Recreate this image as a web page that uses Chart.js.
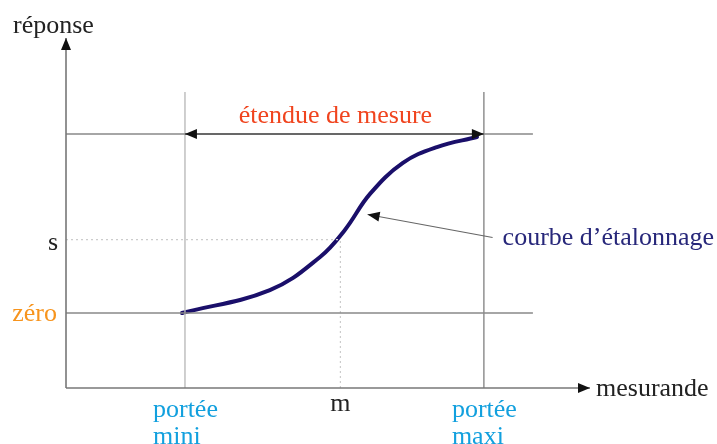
<!DOCTYPE html>
<html>
<head>
<meta charset="utf-8">
<script src="https://cdn.jsdelivr.net/npm/chart.js@4/dist/chart.umd.min.js"></script>
<style>
  html, body { margin: 0; padding: 0; background: #fff; }
  #wrap { width: 717px; height: 444px; }
</style>
</head>
<body>
<div id="wrap"><canvas id="chart"></canvas></div>
<script>
// mesurande in % of the range (portée mini = 0, portée maxi = 100)
// réponse in % of the span (zéro = 0, top of étendue = 100)
const xMin = -39.8, xMax = 135.5;
const yMin = -41.9, yMax = 153.6;
const porteeMini = 0, porteeMaxi = 100;
const mValue = 52, sValue = 41;
const zeroValue = 0, fullValue = 100;
const refLineEnd = 116.4;   // end of the horizontal reference lines
const vertLineTop = 123.5;  // top of the portée verticals

// calibration curve
const curveX = [-1, 28.4, 45.2, 53.5, 61.9, 72.9, 84.3, 97.7];
const curveY = [0, 12.8, 31.3, 46.4, 66.5, 83.8, 92.7, 98.3];

const serif = '"Liberation Serif", "DejaVu Serif", serif';

function seg(x1, y1, x2, y2, color, width, dash) {
  return {
    type: 'line',
    data: [{ x: x1, y: y1 }, { x: x2, y: y2 }],
    borderColor: color,
    borderWidth: width,
    borderDash: dash || [],
    pointRadius: 0,
    clip: false,
    tension: 0
  };
}

function arrowHead(ctx, x, y, angle, len, half, color) {
  ctx.save();
  ctx.translate(x, y);
  ctx.rotate(angle);
  ctx.fillStyle = color;
  ctx.beginPath();
  ctx.moveTo(0, 0);
  ctx.lineTo(-len, -half);
  ctx.lineTo(-len, half);
  ctx.closePath();
  ctx.fill();
  ctx.restore();
}

const annotations = {
  id: 'annotations',
  afterDatasetsDraw(chart) {
    const { ctx } = chart;
    const sx = chart.scales.x, sy = chart.scales.y;
    const px = v => sx.getPixelForValue(v);
    const py = v => sy.getPixelForValue(v);

    // axis arrows
    arrowHead(ctx, px(xMin), py(yMax), -Math.PI / 2, 12, 5, '#111');
    arrowHead(ctx, px(xMax), py(yMin), 0, 12, 5, '#111');

    // étendue de mesure double arrow
    const ya = py(fullValue);
    ctx.save();
    ctx.strokeStyle = '#555';
    ctx.lineWidth = 1.6;
    ctx.beginPath();
    ctx.moveTo(px(porteeMini), ya);
    ctx.lineTo(px(porteeMaxi), ya);
    ctx.stroke();
    ctx.restore();
    arrowHead(ctx, px(porteeMini), ya, Math.PI, 12, 5, '#111');
    arrowHead(ctx, px(porteeMaxi), ya, 0, 12, 5, '#111');

    // pointer to the curve
    const tipX = px(61.1), tipY = py(55);
    const tailX = tipX + 125, tailY = tipY + 23;
    const ang = Math.atan2(tipY - tailY, tipX - tailX);
    ctx.save();
    ctx.strokeStyle = '#666';
    ctx.lineWidth = 1.2;
    ctx.beginPath();
    ctx.moveTo(tailX, tailY);
    ctx.lineTo(tipX, tipY);
    ctx.stroke();
    ctx.restore();
    arrowHead(ctx, tipX, tipY, ang, 12, 5, '#111');

    // texts
    ctx.save();
    ctx.font = '26px ' + serif;
    ctx.textBaseline = 'alphabetic';

    ctx.fillStyle = '#222';
    ctx.textAlign = 'left';
    ctx.fillText('réponse', px(xMin) - 53, py(yMax) - 5);
    ctx.fillText('mesurande', px(xMax) + 6, py(yMin) + 8);
    ctx.textAlign = 'right';
    ctx.fillText('s', px(xMin) - 8, py(sValue) + 10);
    ctx.textAlign = 'center';
    ctx.fillText('m', px(mValue), py(yMin) + 23);

    ctx.fillStyle = '#f7941d';
    ctx.textAlign = 'right';
    ctx.fillText('zéro', px(xMin) - 9, py(zeroValue) + 8);

    ctx.fillStyle = '#f0441e';
    ctx.textAlign = 'center';
    ctx.fillText('étendue de mesure', (px(porteeMini) + px(porteeMaxi)) / 2 + 1, ya - 11);

    ctx.fillStyle = '#27277a';
    ctx.textAlign = 'left';
    ctx.fillText('courbe d’étalonnage', tailX + 10, tailY + 7);

    ctx.fillStyle = '#12a0de';
    ctx.textAlign = 'left';
    ctx.fillText('portée', px(porteeMini) - 32, py(yMin) + 29);
    ctx.fillText('mini', px(porteeMini) - 32, py(yMin) + 56);
    ctx.fillText('portée', px(porteeMaxi) - 32, py(yMin) + 29);
    ctx.fillText('maxi', px(porteeMaxi) - 32, py(yMin) + 56);
    ctx.restore();
  }
};

const curve = {
  type: 'line',
  data: curveX.map((x, i) => ({ x: x, y: curveY[i] })),
  borderColor: '#1a0f6a',
  borderWidth: 4,
  borderCapStyle: 'round',
  pointRadius: 0,
  tension: 0.4,
  clip: false
};

new Chart(document.getElementById('chart'), {
  type: 'scatter',
  data: {
    datasets: [
      seg(xMin, yMin, xMax, yMin, '#777', 1.6),                    // x axis
      seg(xMin, yMin, xMin, yMax, '#777', 1.6),                    // y axis
      seg(xMin, fullValue, refLineEnd, fullValue, '#888', 1.4),
      seg(xMin, zeroValue, refLineEnd, zeroValue, '#888', 1.4),
      seg(porteeMini, yMin, porteeMini, vertLineTop, '#bbb', 1.4),
      seg(porteeMaxi, yMin, porteeMaxi, vertLineTop, '#888', 1.4),
      seg(xMin, sValue, mValue, sValue, '#ccc', 1.2, [2, 3]),
      seg(mValue, yMin, mValue, sValue, '#ccc', 1.2, [2, 3]),
      curve
    ]
  },
  options: {
    responsive: true,
    maintainAspectRatio: false,
    animation: false,
    layout: { padding: { left: 66, right: 127, top: 38, bottom: 56 } },
    plugins: { legend: { display: false }, tooltip: { enabled: false } },
    scales: {
      x: { type: 'linear', min: xMin, max: xMax, display: false },
      y: { type: 'linear', min: yMin, max: yMax, display: false }
    }
  },
  plugins: [annotations]
});
</script>
</body>
</html>
